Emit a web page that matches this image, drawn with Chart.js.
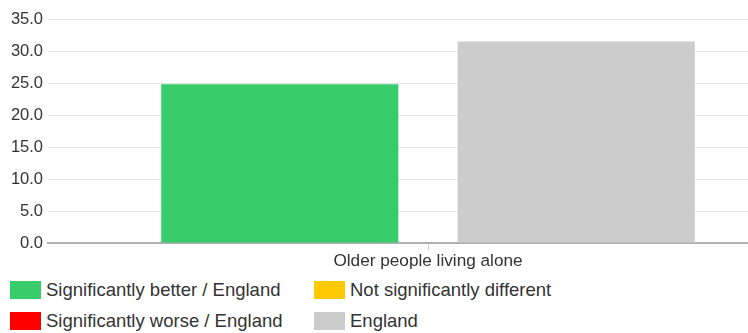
<!DOCTYPE html>
<html>
<head>
<meta charset="utf-8">
<script src="https://cdn.jsdelivr.net/npm/chart.js@4"></script>
<style>
  body { margin: 0; background: #fff; font-family: "Liberation Sans", Arial, sans-serif; }
  #wrap { position: relative; width: 748px; height: 333px; overflow: hidden; }
  #box { position: absolute; left: 0; top: 0; width: 808px; height: 273px; }
  #legend { position: absolute; left: 10px; top: 279px; width: 700px; }
  .item { position: absolute; display: flex; align-items: center; font-size: 18.5px; color: #333; white-space: nowrap; height: 22px; }
  .swatch { width: 31px; height: 18px; margin-right: 5px; }
</style>
</head>
<body>
<div id="wrap">
  <div id="box"><canvas id="chart"></canvas></div>
  <div id="legend"></div>
</div>
<script>
// Chart data
const categories = ["Older people living alone"];
const areaValues = [24.8];
const englandValues = [31.5];
const yTicks = [0, 5, 10, 15, 20, 25, 30, 35];

const legendLabels = ["Significantly better / England", "Not significantly different", "Significantly worse / England", "England"];
const legendColours = ["#37cb69", "#ffc800", "#ff0000", "#cccccc"];

new Chart("chart", {
  type: "bar",
  data: {
    labels: categories,
    datasets: [
      { label: "Area", data: areaValues, backgroundColor: "#37cb69" },
      { label: "England", data: englandValues, backgroundColor: "#cccccc" }
    ]
  },
  options: {
    responsive: true,
    maintainAspectRatio: false,
    animation: false,
    layout: { padding: { top: 19, left: 0, right: 0, bottom: 0 } },
    categoryPercentage: 0.78,
    barPercentage: 0.8,
    plugins: {
      legend: { display: false },
      tooltip: { enabled: false }
    },
    scales: {
      x: {
        afterFit: function(scale) { scale.height = 30; },
        grid: { display: true, drawOnChartArea: false, drawTicks: true, tickLength: 7, color: "#cccccc", offset: false },
        border: { display: true, color: "#b0b0b0", width: 2 },
        ticks: { color: "#333", font: { family: "Liberation Sans", size: 17.2 }, padding: 1 }
      },
      y: {
        min: 0,
        max: 35,
        afterFit: function(scale) { scale.width = 48; },
        afterBuildTicks: function(scale) { scale.ticks = yTicks.map(v => ({ value: v })); },
        grid: { color: "#e6e6e6", lineWidth: 1, drawTicks: false },
        border: { display: false },
        ticks: {
          color: "#333",
          padding: 5,
          font: { family: "Liberation Sans", size: 16.5 },
          callback: function(val) { return Number(val).toFixed(1); }
        }
      }
    }
  }
});

// legend in two columns
const legendDiv = document.querySelector('#legend');
legendLabels.forEach((text, i) => {
  const item = document.createElement('div');
  item.className = 'item';
  item.style.left = (i % 2 === 0 ? 0 : 304) + 'px';
  item.style.top = (i < 2 ? 0 : 31) + 'px';
  item.innerHTML = `<span class="swatch" style="background:${legendColours[i]}"></span>${text}`;
  legendDiv.appendChild(item);
});
</script>
</body>
</html>
